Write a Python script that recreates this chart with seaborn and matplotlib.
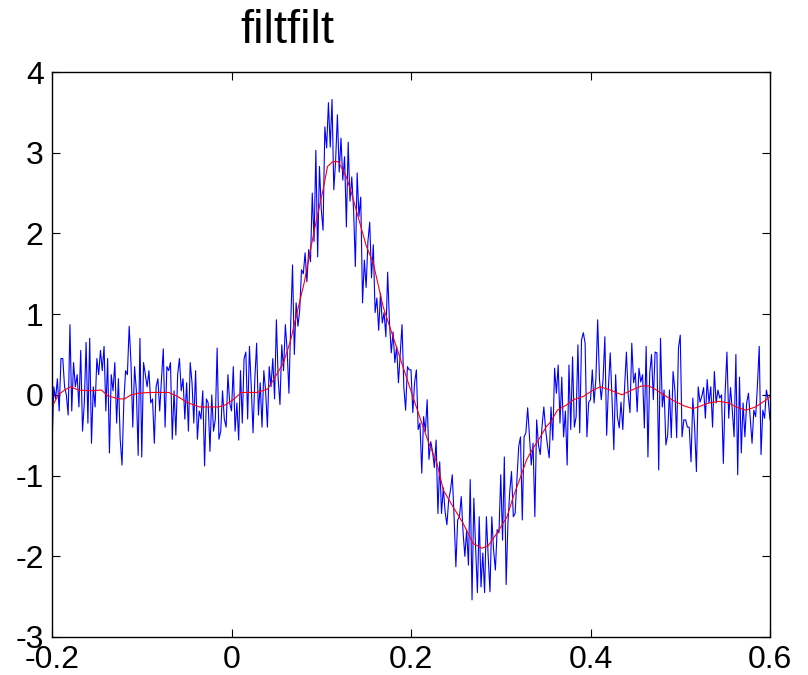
import numpy as np
import pandas as pd
import matplotlib
matplotlib.use("Agg")
import matplotlib.pyplot as plt
import seaborn as sns

# ---- data ----
t_start, t_step = -0.2, 0.002

noisy_seg1 = [-0.65, 0.10, -0.05, 0.20, -0.20, 0.45, 0.45, 0.10, 0.00, -0.25,
              0.87, -0.20, 0.40, 0.10, 0.25, -0.15, 0.55, -0.45, -0.10, 0.65,
              -0.35, 0.70, -0.60, 0.10, -0.15, 0.45, 0.25, 0.55, 0.30, 0.60,
              -0.20, 0.45, -0.72, 0.25, 0.05, 0.40, -0.35, 0.20, -0.55, -0.87,
              -0.10, 0.30, 0.25, 0.85, 0.40, -0.40, 0.35, 0.05, -0.75, 0.70]
noisy_seg2 = [-0.77, 0.40, 0.25, 0.10, 0.30, -0.10, -0.05, -0.60, 0.10, 0.20,
              -0.20, 0.20, 0.57, -0.40, 0.35, 0.30, 0.40, -0.55, 0.05, -0.50,
              0.25, 0.45, 0.05, 0.20, -0.30, 0.15, -0.45, 0.40, 0.15, -0.35,
              0.30, -0.55, -0.20, -0.30, 0.05, -0.88, -0.05, -0.10, -0.70, 0.00,
              -0.45, -0.30, 0.58, -0.55, -0.45, 0.05, -0.30, -0.40, 0.25, -0.10]
noisy_seg3 = [-0.20, 0.35, -0.45, -0.10, -0.56, 0.30, -0.35, 0.45, 0.53, -0.30,
              0.60, 0.10, -0.47, 0.20, 0.64, -0.25, 0.15, -0.40, 0.30, 0.05,
              -0.40, 0.35, 0.10, 0.45, -0.05, 0.93, 0.20, -0.12, 0.62, 0.30,
              0.87, 0.55, 0.02, 0.90, 1.61, 0.50, 1.14, 0.85, 1.05, 1.55,
              1.50, 1.76, 1.40, 1.80, 1.65, 2.50, 1.90, 3.03, 1.71, 2.83]
noisy_seg4 = [2.30, 2.04, 3.32, 3.06, 3.62, 3.07, 3.66, 2.54, 2.90, 3.47,
              2.76, 3.18, 2.66, 2.95, 2.08, 3.13, 2.40, 2.70, 2.30, 1.59,
              2.75, 2.21, 2.45, 1.14, 1.67, 1.33, 1.90, 2.14, 1.45, 1.86,
              1.02, 1.20, 0.80, 1.26, 0.89, 1.02, 0.72, 1.52, 0.90, 0.52,
              0.78, 0.40, 0.60, 0.15, 0.50, 0.87, 0.10, -0.19, 0.35, 0.31]
noisy_seg5 = [0.31, -0.22, 0.15, 0.31, -0.43, -0.35, -0.97, -0.27, -0.45, -0.06,
              -0.80, -0.58, -0.70, -0.90, -0.56, -1.47, -0.83, -1.47, -1.15, -1.45,
              -1.61, -1.30, -1.18, -0.99, -1.51, -2.13, -1.55, -1.51, -1.26, -1.70,
              -2.00, -1.67, -2.11, -1.05, -2.54, -1.28, -1.90, -2.45, -1.51, -2.38,
              -1.96, -2.45, -1.51, -2.00, -2.44, -1.51, -1.92, -2.17, -1.67, -1.71]
noisy_seg6 = [-0.99, -1.80, -0.77, -2.35, -1.59, -1.20, -0.95, -1.51, -1.47, -1.05,
              -0.64, -0.52, -1.55, -0.52, -0.47, -0.16, -0.52, -0.87, -0.60, -1.51,
              -0.31, -0.62, -0.74, -0.39, -0.15, -0.43, -0.62, -0.78, -0.15, -0.56,
              0.33, 0.02, 0.37, -0.35, 0.22, -0.52, -0.20, -0.87, 0.37, -0.43,
              0.47, -0.40, -0.27, 0.62, -0.47, 0.68, 0.77, 0.64, -0.52, -0.09]
noisy_seg7 = [-0.06, 0.31, -0.10, 0.20, 0.93, 0.19, -0.06, 0.19, 0.72, -0.50,
              0.10, 0.52, -0.06, -0.68, 0.25, -0.27, -0.41, -0.09, -0.43, 0.10,
              0.53, 0.00, -0.22, 0.64, 0.15, 0.27, -0.21, 0.33, 0.16, 0.25,
              -0.41, 0.60, -0.77, 0.27, 0.50, -0.06, 0.53, 0.52, -0.93, 0.70,
              -0.15, 0.06, -0.62, -0.50, 0.06, -0.53, 0.29, 0.06, -0.53, 0.58]
noisy_seg8 = [0.74, -0.52, -0.31, -0.31, -0.40, -0.40, -0.83, -0.04, -0.40, -0.95,
              0.10, -0.09, -0.02, 0.09, -0.29, 0.19, -0.10, 0.10, -0.40, 0.29,
              -0.10, 0.06, -0.04, 0.00, -0.85, 0.02, 0.53, -0.29, 0.09, -0.19,
              -0.52, 0.50, -0.99, 0.22, -0.72, -0.10, -0.52, -0.10, 0.02, -0.29,
              -0.60, -0.19, -0.27, 0.12, 0.60, -0.74, -0.19, -0.29, 0.06, -0.06,
              -0.31]

filt_t = [-0.200, -0.193, -0.186, -0.179, -0.171, -0.157, -0.145, -0.138, -0.126, -0.119,
          -0.112, -0.104, -0.090, -0.070, -0.060, -0.050, -0.036, -0.014, -0.006, 0.003,
          0.011, 0.028, 0.040, 0.047, 0.058, 0.066, 0.072, 0.081, 0.088, 0.094,
          0.102, 0.107, 0.113, 0.119, 0.128, 0.135, 0.143, 0.150, 0.158, 0.169,
          0.180, 0.191, 0.202, 0.212, 0.220, 0.229, 0.236, 0.247, 0.258, 0.269,
          0.279, 0.286, 0.296, 0.307, 0.314, 0.321, 0.329, 0.335, 0.342, 0.351,
          0.356, 0.363, 0.374, 0.381, 0.392, 0.403, 0.411, 0.422, 0.435, 0.446,
          0.457, 0.465, 0.472, 0.483, 0.494, 0.505, 0.514, 0.520, 0.532, 0.543,
          0.554, 0.562, 0.573, 0.584, 0.596, 0.600]
filt_y = [-0.15, 0.00, 0.06, 0.10, 0.06, 0.05, 0.06, -0.01, -0.05, -0.05,
          0.00, 0.02, 0.03, 0.03, -0.02, -0.09, -0.15, -0.15, -0.12, -0.05,
          0.03, 0.03, 0.07, 0.19, 0.40, 0.68, 0.97, 1.39, 1.80, 2.13,
          2.54, 2.83, 2.89, 2.89, 2.70, 2.45, 2.13, 1.85, 1.63, 1.09,
          0.72, 0.35, -0.02, -0.35, -0.60, -0.85, -1.18, -1.39, -1.59, -1.84,
          -1.90, -1.87, -1.71, -1.51, -1.26, -1.05, -0.80, -0.68, -0.56, -0.39,
          -0.33, -0.19, -0.12, -0.06, -0.02, 0.06, 0.10, 0.06, 0.00, 0.06,
          0.11, 0.11, 0.07, -0.01, -0.08, -0.14, -0.17, -0.15, -0.10, -0.08,
          -0.10, -0.15, -0.19, -0.15, -0.06, -0.02]

x_ticks = [-0.2, 0, 0.2, 0.4, 0.6]
x_tick_labels = ["-0.2", "0", "0.2", "0.4", "0.6"]
y_ticks = [-3, -2, -1, 0, 1, 2, 3, 4]
y_tick_labels = ["-3", "-2", "-1", "0", "1", "2", "3", "4"]
title_text = "filtfilt"

# ---- build frames ----
noisy = (noisy_seg1 + noisy_seg2 + noisy_seg3 + noisy_seg4 +
         noisy_seg5 + noisy_seg6 + noisy_seg7 + noisy_seg8)
t = t_start + t_step * np.arange(len(noisy))
df_noisy = pd.DataFrame({"t": t, "y": noisy})
df_filt = pd.DataFrame({"t": filt_t, "y": filt_y})

sns.set_theme(style="white")
plt.rcParams["font.family"] = ["Liberation Sans", "DejaVu Sans"]

fig = plt.figure(figsize=(8.08, 6.75), dpi=100)
ax = fig.add_axes([52 / 808, 38 / 675, 718 / 808, 565 / 675])

sns.lineplot(data=df_noisy, x="t", y="y", ax=ax, color="#0000ff",
             linewidth=0.8, estimator=None, sort=False)
sns.lineplot(data=df_filt, x="t", y="y", ax=ax, color="#ff0000",
             linewidth=0.8, estimator=None, sort=False)

ax.set_xlim(-0.2, 0.6)
ax.set_ylim(-3, 4)
ax.set_xticks(x_ticks)
ax.set_xticklabels(x_tick_labels)
ax.set_yticks(y_ticks)
ax.set_yticklabels(y_tick_labels)
ax.set_xlabel("")
ax.set_ylabel("")
ax.tick_params(axis="both", which="both", direction="in", length=6,
               width=0.8, colors="black", labelsize=23,
               top=True, right=True, bottom=True, left=True)
ax.tick_params(axis="x", pad=6)
ax.tick_params(axis="y", pad=6)
for s in ax.spines.values():
    s.set_visible(True)
    s.set_color("black")
    s.set_linewidth(1.0)
ax.grid(False)

fig.text(287 / 808, 1 - 31 / 675, title_text, fontsize=34,
         ha="center", va="center", color="black")

fig.savefig("out.png", dpi=100, facecolor="white")
